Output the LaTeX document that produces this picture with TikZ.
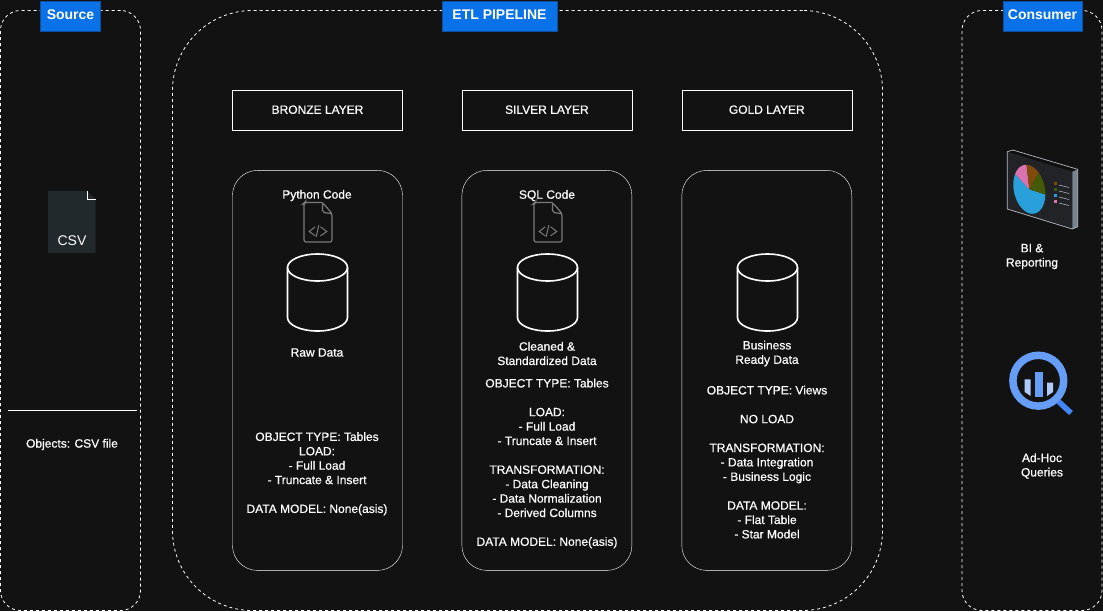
\documentclass[tikz,border=0pt]{standalone}
\usepackage{fontspec}
\setmainfont{Liberation Sans}
\newfontfamily\lblfont{Liberation Sans}[FakeBold=0.6]
\usetikzlibrary{positioning}
\definecolor{pagebg}{HTML}{121212}
\definecolor{headblue}{HTML}{0A72E8}
\definecolor{headline}{HTML}{0D4F9E}
\definecolor{csvgray}{HTML}{22292C}
\definecolor{icongray}{HTML}{7A7A7A}
\definecolor{ringblue}{HTML}{669DF6}
\definecolor{handleblue}{HTML}{4285F4}
\definecolor{barlight}{HTML}{AECBFA}
\definecolor{screenface}{HTML}{212327}
\definecolor{screentop}{HTML}{0F0F10}
\definecolor{screenside}{HTML}{77838F}
\definecolor{screenedge}{HTML}{B4BBC2}
\definecolor{pieblue}{HTML}{2AA0DA}
\definecolor{piepink}{HTML}{D873B0}
\definecolor{piebrown}{HTML}{7F4A0A}
\definecolor{piegreen}{HTML}{455A07}
\tikzset{
	zone/.style={draw=white,dash pattern=on 3pt off 3pt,line width=0.8pt,anchor=north west,inner sep=0pt,outer sep=0pt,minimum height=600pt},
	header/.style={draw=headline,fill=headblue,text=white,font=\fontsize{14}{16}\selectfont\bfseries,text height=10.5pt,text depth=2.5pt,minimum height=30pt,inner sep=0pt,anchor=north},
	layerbox/.style={draw=white,text=white,font=\fontsize{12}{14}\selectfont\lblfont,text height=9pt,text depth=2.4pt,minimum width=170pt,minimum height=40pt,inner sep=0pt},
	panel/.style={draw=white,rounded corners=25pt,minimum width=170pt,minimum height=400pt,inner sep=0pt},
	lbl/.style={text=white,font=\fontsize{12}{14.4}\selectfont\lblfont,align=center,inner sep=0pt},
	dbstore/.pic={
		\draw[white,line width=1.6pt] (-30,-25) -- (-30,25) arc[start angle=180,end angle=0,x radius=30,y radius=13.5] -- (30,-25);
		\draw[white,line width=1.6pt] (0,-25) ellipse [x radius=30,y radius=13.5];
	},
	codefile/.pic={
		\draw[icongray,line width=1.2pt,rounded corners=2pt] (19,0)--(1,0)--(0.5,0.5)--(0.5,39.5)--(28.5,39.5)--(28.5,11)--(19,0)--(19,10)--(28.5,11);
		\draw[icongray,line width=1pt] (11.7,24.3)--(5.7,29)--(11.7,33.3) (17,24.3)--(23.3,29)--(17,33.3) (15.3,22.7)--(12.7,34.3);
	},
}
\begin{document}
\begin{tikzpicture}[x=1pt,y=-1pt]
	\fill[pagebg] (0,0) rectangle (1103,611);
	\useasboundingbox (0,0) rectangle (1103,611);
	% zones
	\node[zone,rounded corners=20pt,minimum width=140pt] (srczone) at (0.5,10.5) {};
	\node[zone,rounded corners=80pt,minimum width=710pt] (etlzone) at (172.5,10.5) {};
	\node[zone,rounded corners=20pt,minimum width=140pt] (conszone) at (962,10.5) {};
	\node[header,minimum width=60pt] (srchead) at (70.5,0.5) {Source};
	\node[header,minimum width=115pt] (etlhead) at (499.5,0.5) {ETL PIPELINE};
	\node[header,minimum width=79pt] (conshead) at (1042.5,0.5) {Consumer};

	% source
	\fill[csvgray] (48,191)--(87,191)--(95.5,199)--(95.5,253)--(48,253)--cycle;
	\draw[white,line width=0.8pt] (87,191)--(87,199)--(95.5,199);
	\node[text=white,font=\fontsize{14}{16}\selectfont,inner sep=0pt] (csvtxt) at (72,241) {CSV};
	\coordinate (ruleL) at (8,410.5);
	\coordinate (ruleR) at (137,410.5);
	\draw[white] (ruleL)--(ruleR);
	\node[lbl] (objects) at (72,444.5) {Objects: CSV file};

	% layers
	\node[layerbox] (bronze) at (317.5,110.5) {BRONZE LAYER};
	\node[layerbox,right=59pt of bronze] (silver) {SILVER LAYER};
	\node[layerbox,right=49.5pt of silver] (gold) {GOLD LAYER};
	\node[panel,below=39.5pt of bronze] (bronzep) {};
	\node[panel,below=39.5pt of silver] (silverp) {};
	\node[panel,below=39.5pt of gold] (goldp) {};

	\node[lbl] (pycode) at (317,195.5) {Python Code};
	\node[lbl] (sqlcode) at (547,195.5) {SQL Code};
	\pic at (303.5,202.5) {codefile};
	\pic at (533.5,202.5) {codefile};
	\pic at (317.5,292.5) {dbstore};
	\pic at (547.5,292.5) {dbstore};
	\pic at (767.5,292.5) {dbstore};

	\node[lbl] (rawtxt) at (317,352.5) {Raw Data};
	\node[lbl] (cleantxt) at (547,353.5) {Cleaned \&\\Standardized Data};
	\node[lbl] (readytxt) at (767,353.5) {Business\\Ready Data};

	\node[lbl,anchor=north] (bronzeinfo) at (317,432) {OBJECT TYPE: Tables\\LOAD:\\- Full Load\\- Truncate \& Insert\\[14.4pt]DATA MODEL: None(asis)};
	\node[lbl,anchor=north] (silverinfo) at (547,378.5) {OBJECT TYPE: Tables\\[14.4pt]LOAD:\\- Full Load\\- Truncate \& Insert\\[14.4pt]TRANSFORMATION:\\- Data Cleaning\\- Data Normalization\\- Derived Columns\\[14.4pt]DATA MODEL: None(asis)};
	\node[lbl,anchor=north] (goldinfo) at (767,385.5) {OBJECT TYPE: Views\\[14.4pt]NO LOAD\\[14.4pt]TRANSFORMATION:\\- Data Integration\\- Business Logic\\[14.4pt]DATA MODEL:\\- Flat Table\\- Star Model};

	% consumer: dashboard
	\fill[screentop] (1007.3,151.7)--(1012.7,150)--(1077.7,169.3)--(1072.3,171.7)--cycle;
	\fill[screenface] (1007.3,151.7)--(1072.3,171.7)--(1072.3,229)--(1007.3,209)--cycle;
	\fill[screenside] (1072.3,171.7)--(1077.7,169.3)--(1077.7,226.7)--(1072.3,229)--cycle;
	\draw[screenedge,line width=0.7pt,line join=round] (1012.7,150)--(1007.3,151.7)--(1007.3,209)--(1072.3,229)--(1077.7,226.7)--(1077.7,169.3)--cycle;
	\begin{scope}[shift={(1029.3,189.3)},x={(16pt,-4.8pt)},y={(0pt,-24pt)}]
		\fill[pieblue] (0,0) -- plot[domain=1:207,samples=40] ({cos(\x)},{sin(\x)}) -- cycle;
		\fill[piepink] (0,0) -- plot[domain=207:260,samples=15] ({cos(\x)},{sin(\x)}) -- cycle;
		\fill[piebrown] (0,0) -- plot[domain=260:306,samples=15] ({cos(\x)},{sin(\x)}) -- cycle;
		\fill[piegreen] (0,0) -- plot[domain=306:361,samples=15] ({cos(\x)},{sin(\x)}) -- cycle;
	\end{scope}
	\foreach \yy/\cc in {182/piebrown,188/piegreen,194/pieblue,200/piepink}{
		\fill[\cc] (1054,\yy) rectangle ++(3.3,3.3);
		\draw[screenedge,line width=0.6pt] (1059,{\yy+3})--++(10,2.5);
	}
	\node[lbl] (bitxt) at (1032,256.5) {BI \&\\Reporting};

	% consumer: magnifier
	\draw[handleblue,line width=5.5pt] (1058.5,401.5)--(1071,413);
	\draw[ringblue,line width=7.5pt] (1038.3,380.7) circle (25.4);
	\fill[ringblue] (1035.3,371.7) rectangle (1042.7,396.7);
	\fill[barlight] (1024.7,379.3)--(1030.7,379.3)--(1030.7,396)--(1024.7,392)--cycle;
	\fill[barlight] (1047,382.7)--(1053,382.7)--(1053,392)--(1047,396)--cycle;
	\node[lbl] (adhoc) at (1042,466) {Ad-Hoc\\Queries};
\end{tikzpicture}
\end{document}
